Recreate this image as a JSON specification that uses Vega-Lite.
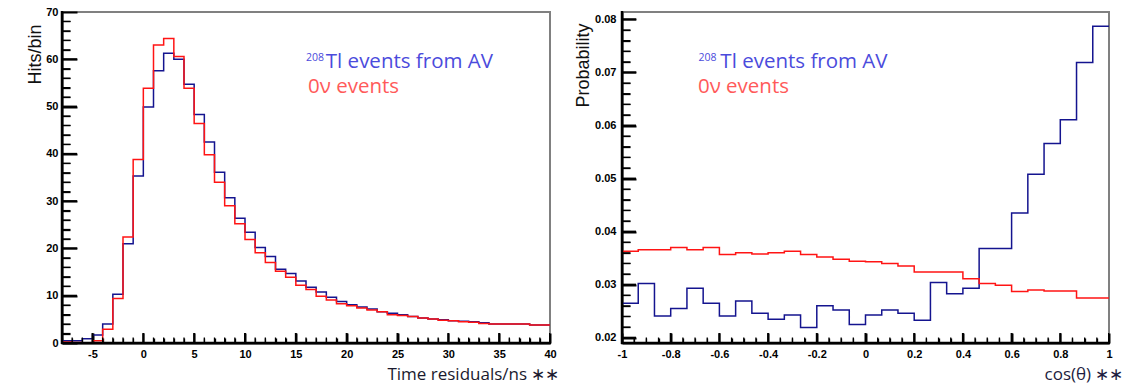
{
  "$schema": "https://vega.github.io/schema/vega-lite/v6.json",
  "padding": {"left": 24, "top": 5, "right": 5, "bottom": 5},
  "autosize": {"type": "pad"},
  "background": "white",
  "config": {
    "view": {"stroke": "#808080", "strokeWidth": 2},
    "axis": {"grid": false, "ticks": true, "tickColor": "#000000", "tickOpacity": 1, "domainColor": "#000000", "domainWidth": 2, "labelFont": "Liberation Sans", "labelFontSize": 11, "labelFontWeight": "bold", "labelColor": "#000000", "labelOverlap": false, "labelFlush": false, "labelBound": false, "titleFontWeight": "normal", "zindex": 2}
  },
  "datasets": {
    "time": [
      {"s": "Tl", "x": -8, "y": 0.5}, {"s": "Tl", "x": -7, "y": 0.5}, {"s": "Tl", "x": -6, "y": 0.9}, {"s": "Tl", "x": -5, "y": 1.7},
      {"s": "Tl", "x": -4, "y": 4.0}, {"s": "Tl", "x": -3, "y": 10.3}, {"s": "Tl", "x": -2, "y": 21.0}, {"s": "Tl", "x": -1, "y": 35.3},
      {"s": "Tl", "x": 0, "y": 49.9}, {"s": "Tl", "x": 1, "y": 57.6}, {"s": "Tl", "x": 2, "y": 61.3}, {"s": "Tl", "x": 3, "y": 60.0},
      {"s": "Tl", "x": 4, "y": 54.7}, {"s": "Tl", "x": 5, "y": 48.3}, {"s": "Tl", "x": 6, "y": 42.5}, {"s": "Tl", "x": 7, "y": 36.1},
      {"s": "Tl", "x": 8, "y": 30.7}, {"s": "Tl", "x": 9, "y": 26.4}, {"s": "Tl", "x": 10, "y": 23.4}, {"s": "Tl", "x": 11, "y": 20.2},
      {"s": "Tl", "x": 12, "y": 18.3}, {"s": "Tl", "x": 13, "y": 15.6}, {"s": "Tl", "x": 14, "y": 14.7}, {"s": "Tl", "x": 15, "y": 13.1},
      {"s": "Tl", "x": 16, "y": 11.8}, {"s": "Tl", "x": 17, "y": 10.8}, {"s": "Tl", "x": 18, "y": 9.7}, {"s": "Tl", "x": 19, "y": 8.8},
      {"s": "Tl", "x": 20, "y": 8.1}, {"s": "Tl", "x": 21, "y": 7.6}, {"s": "Tl", "x": 22, "y": 7.2}, {"s": "Tl", "x": 23, "y": 6.6},
      {"s": "Tl", "x": 24, "y": 6.3}, {"s": "Tl", "x": 25, "y": 6.0}, {"s": "Tl", "x": 26, "y": 5.6}, {"s": "Tl", "x": 27, "y": 5.3},
      {"s": "Tl", "x": 28, "y": 5.1}, {"s": "Tl", "x": 29, "y": 4.9}, {"s": "Tl", "x": 30, "y": 4.7}, {"s": "Tl", "x": 31, "y": 4.6},
      {"s": "Tl", "x": 32, "y": 4.5}, {"s": "Tl", "x": 33, "y": 4.3}, {"s": "Tl", "x": 34, "y": 4.0}, {"s": "Tl", "x": 35, "y": 4.0},
      {"s": "Tl", "x": 36, "y": 4.0}, {"s": "Tl", "x": 37, "y": 4.0}, {"s": "Tl", "x": 38, "y": 3.8}, {"s": "Tl", "x": 39, "y": 3.8},
      {"s": "Tl", "x": 40, "y": 3.8},
      {"s": "nu", "x": -8, "y": 0.2}, {"s": "nu", "x": -7, "y": 0.1}, {"s": "nu", "x": -6, "y": 0.0}, {"s": "nu", "x": -5, "y": 0.5},
      {"s": "nu", "x": -4, "y": 2.9}, {"s": "nu", "x": -3, "y": 9.4}, {"s": "nu", "x": -2, "y": 22.4}, {"s": "nu", "x": -1, "y": 38.8},
      {"s": "nu", "x": 0, "y": 53.9}, {"s": "nu", "x": 1, "y": 63.0}, {"s": "nu", "x": 2, "y": 64.4}, {"s": "nu", "x": 3, "y": 60.6},
      {"s": "nu", "x": 4, "y": 53.9}, {"s": "nu", "x": 5, "y": 46.4}, {"s": "nu", "x": 6, "y": 39.8}, {"s": "nu", "x": 7, "y": 34.0},
      {"s": "nu", "x": 8, "y": 29.0}, {"s": "nu", "x": 9, "y": 25.2}, {"s": "nu", "x": 10, "y": 21.9}, {"s": "nu", "x": 11, "y": 19.1},
      {"s": "nu", "x": 12, "y": 17.0}, {"s": "nu", "x": 13, "y": 15.2}, {"s": "nu", "x": 14, "y": 13.9}, {"s": "nu", "x": 15, "y": 12.2},
      {"s": "nu", "x": 16, "y": 11.3}, {"s": "nu", "x": 17, "y": 9.9}, {"s": "nu", "x": 18, "y": 9.1}, {"s": "nu", "x": 19, "y": 8.3},
      {"s": "nu", "x": 20, "y": 7.9}, {"s": "nu", "x": 21, "y": 7.4}, {"s": "nu", "x": 22, "y": 7.0}, {"s": "nu", "x": 23, "y": 6.6},
      {"s": "nu", "x": 24, "y": 6.0}, {"s": "nu", "x": 25, "y": 5.8}, {"s": "nu", "x": 26, "y": 5.6}, {"s": "nu", "x": 27, "y": 5.3},
      {"s": "nu", "x": 28, "y": 5.1}, {"s": "nu", "x": 29, "y": 4.8}, {"s": "nu", "x": 30, "y": 4.7}, {"s": "nu", "x": 31, "y": 4.5},
      {"s": "nu", "x": 32, "y": 4.4}, {"s": "nu", "x": 33, "y": 4.1}, {"s": "nu", "x": 34, "y": 4.0}, {"s": "nu", "x": 35, "y": 4.0},
      {"s": "nu", "x": 36, "y": 4.0}, {"s": "nu", "x": 37, "y": 4.0}, {"s": "nu", "x": 38, "y": 3.8}, {"s": "nu", "x": 39, "y": 3.8},
      {"s": "nu", "x": 40, "y": 3.8}
    ],
    "cos": [
      {"s": "Tl", "x": -1, "y": 0.0265}, {"s": "Tl", "x": -0.93333, "y": 0.0302}, {"s": "Tl", "x": -0.86667, "y": 0.0241},
      {"s": "Tl", "x": -0.8, "y": 0.0255}, {"s": "Tl", "x": -0.73333, "y": 0.0293}, {"s": "Tl", "x": -0.66667, "y": 0.0265},
      {"s": "Tl", "x": -0.6, "y": 0.0241}, {"s": "Tl", "x": -0.53333, "y": 0.0269}, {"s": "Tl", "x": -0.46667, "y": 0.0246},
      {"s": "Tl", "x": -0.4, "y": 0.0235}, {"s": "Tl", "x": -0.33333, "y": 0.0243}, {"s": "Tl", "x": -0.26667, "y": 0.0219},
      {"s": "Tl", "x": -0.2, "y": 0.0260}, {"s": "Tl", "x": -0.13333, "y": 0.0252}, {"s": "Tl", "x": -0.06667, "y": 0.0225},
      {"s": "Tl", "x": 0, "y": 0.0243}, {"s": "Tl", "x": 0.06667, "y": 0.0252}, {"s": "Tl", "x": 0.13333, "y": 0.0246},
      {"s": "Tl", "x": 0.2, "y": 0.0233}, {"s": "Tl", "x": 0.26667, "y": 0.0304}, {"s": "Tl", "x": 0.33333, "y": 0.0283},
      {"s": "Tl", "x": 0.4, "y": 0.0293}, {"s": "Tl", "x": 0.46667, "y": 0.0368}, {"s": "Tl", "x": 0.53333, "y": 0.0368},
      {"s": "Tl", "x": 0.6, "y": 0.0435}, {"s": "Tl", "x": 0.66667, "y": 0.0508}, {"s": "Tl", "x": 0.73333, "y": 0.0566},
      {"s": "Tl", "x": 0.8, "y": 0.0611}, {"s": "Tl", "x": 0.86667, "y": 0.0719}, {"s": "Tl", "x": 0.93333, "y": 0.0787},
      {"s": "Tl", "x": 1, "y": 0.0787},
      {"s": "nu", "x": -1, "y": 0.0363}, {"s": "nu", "x": -0.93333, "y": 0.0366}, {"s": "nu", "x": -0.86667, "y": 0.0366},
      {"s": "nu", "x": -0.8, "y": 0.0370}, {"s": "nu", "x": -0.73333, "y": 0.0366}, {"s": "nu", "x": -0.66667, "y": 0.0370},
      {"s": "nu", "x": -0.6, "y": 0.0357}, {"s": "nu", "x": -0.53333, "y": 0.0360}, {"s": "nu", "x": -0.46667, "y": 0.0358},
      {"s": "nu", "x": -0.4, "y": 0.0360}, {"s": "nu", "x": -0.33333, "y": 0.0363}, {"s": "nu", "x": -0.26667, "y": 0.0357},
      {"s": "nu", "x": -0.2, "y": 0.0352}, {"s": "nu", "x": -0.13333, "y": 0.0348}, {"s": "nu", "x": -0.06667, "y": 0.0344},
      {"s": "nu", "x": 0, "y": 0.0343}, {"s": "nu", "x": 0.06667, "y": 0.0340}, {"s": "nu", "x": 0.13333, "y": 0.0335},
      {"s": "nu", "x": 0.2, "y": 0.0324}, {"s": "nu", "x": 0.26667, "y": 0.0324}, {"s": "nu", "x": 0.33333, "y": 0.0324},
      {"s": "nu", "x": 0.4, "y": 0.0311}, {"s": "nu", "x": 0.46667, "y": 0.0302}, {"s": "nu", "x": 0.53333, "y": 0.0299},
      {"s": "nu", "x": 0.6, "y": 0.0287}, {"s": "nu", "x": 0.66667, "y": 0.0290}, {"s": "nu", "x": 0.73333, "y": 0.0288},
      {"s": "nu", "x": 0.8, "y": 0.0288}, {"s": "nu", "x": 0.86667, "y": 0.0275}, {"s": "nu", "x": 0.93333, "y": 0.0275},
      {"s": "nu", "x": 1, "y": 0.0275}
    ],
    "lxMaj": [{"t": -5}, {"t": 0}, {"t": 5}, {"t": 10}, {"t": 15}, {"t": 20}, {"t": 25}, {"t": 30}, {"t": 35}, {"t": 40}],
    "lxMin": [{"t": -8}, {"t": -7}, {"t": -6}, {"t": -4}, {"t": -3}, {"t": -2}, {"t": -1}, {"t": 1}, {"t": 2}, {"t": 3}, {"t": 4}, {"t": 6}, {"t": 7}, {"t": 8}, {"t": 9}, {"t": 11}, {"t": 12}, {"t": 13}, {"t": 14}, {"t": 16}, {"t": 17}, {"t": 18}, {"t": 19}, {"t": 21}, {"t": 22}, {"t": 23}, {"t": 24}, {"t": 26}, {"t": 27}, {"t": 28}, {"t": 29}, {"t": 31}, {"t": 32}, {"t": 33}, {"t": 34}, {"t": 36}, {"t": 37}, {"t": 38}, {"t": 39}],
    "lyMaj": [{"t": 0}, {"t": 10}, {"t": 20}, {"t": 30}, {"t": 40}, {"t": 50}, {"t": 60}, {"t": 70}],
    "lyMin": [{"t": 2}, {"t": 4}, {"t": 6}, {"t": 8}, {"t": 12}, {"t": 14}, {"t": 16}, {"t": 18}, {"t": 22}, {"t": 24}, {"t": 26}, {"t": 28}, {"t": 32}, {"t": 34}, {"t": 36}, {"t": 38}, {"t": 42}, {"t": 44}, {"t": 46}, {"t": 48}, {"t": 52}, {"t": 54}, {"t": 56}, {"t": 58}, {"t": 62}, {"t": 64}, {"t": 66}, {"t": 68}],
    "rxMaj": [{"t": -1}, {"t": -0.8}, {"t": -0.6}, {"t": -0.4}, {"t": -0.2}, {"t": 0}, {"t": 0.2}, {"t": 0.4}, {"t": 0.6}, {"t": 0.8}, {"t": 1}],
    "rxMin": [{"t": -0.95}, {"t": -0.9}, {"t": -0.85}, {"t": -0.75}, {"t": -0.7}, {"t": -0.65}, {"t": -0.55}, {"t": -0.5}, {"t": -0.45}, {"t": -0.35}, {"t": -0.3}, {"t": -0.25}, {"t": -0.15}, {"t": -0.1}, {"t": -0.05}, {"t": 0.05}, {"t": 0.1}, {"t": 0.15}, {"t": 0.25}, {"t": 0.3}, {"t": 0.35}, {"t": 0.45}, {"t": 0.5}, {"t": 0.55}, {"t": 0.65}, {"t": 0.7}, {"t": 0.75}, {"t": 0.85}, {"t": 0.9}, {"t": 0.95}],
    "ryMaj": [{"t": 0.02}, {"t": 0.03}, {"t": 0.04}, {"t": 0.05}, {"t": 0.06}, {"t": 0.07}, {"t": 0.08}],
    "ryMin": [{"t": 0.022}, {"t": 0.024}, {"t": 0.026}, {"t": 0.028}, {"t": 0.032}, {"t": 0.034}, {"t": 0.036}, {"t": 0.038}, {"t": 0.042}, {"t": 0.044}, {"t": 0.046}, {"t": 0.048}, {"t": 0.052}, {"t": 0.054}, {"t": 0.056}, {"t": 0.058}, {"t": 0.062}, {"t": 0.064}, {"t": 0.066}, {"t": 0.068}, {"t": 0.072}, {"t": 0.074}, {"t": 0.076}, {"t": 0.078}]
  },
  "spacing": 72,
  "bounds": "flush",
  "hconcat": [
    {
      "width": 488,
      "height": 331,
      "data": {"name": "time"},
      "resolve": {"axis": {"x": "independent", "y": "independent"}},
      "layer": [
        {
          "transform": [{"filter": "datum.s == 'Tl'"}],
          "mark": {"type": "line", "interpolate": "step-after", "color": "#14148f", "strokeWidth": 1.5, "clip": true},
          "encoding": {
            "x": {
              "field": "x", "type": "quantitative",
              "scale": {"domain": [-8, 40], "nice": false, "zero": false},
              "axis": {
                "orient": "bottom", "offset": -10, "domain": false,
                "values": [-5, 0, 5, 10, 15, 20, 25, 30, 35, 40],
                "tickSize": 10, "tickWidth": 2,
                "labelPadding": 5, "labelOverlap": false,
                "labelExpr": "replace(datum.label, '−', '-')",
                "title": "Time residuals/ns ∗∗",
                "titleFont": "Open Sans", "titleFontSize": 17, "titleColor": "#1a1a2e",
                "titleX": 497, "titleY": 46, "titleAlign": "right", "titleBaseline": "alphabetic"
              }
            },
            "y": {
              "field": "y", "type": "quantitative",
              "scale": {"domain": [0, 70], "nice": false, "zero": false},
              "axis": {
                "orient": "left", "offset": -15, "domain": false,
                "values": [0, 10, 20, 30, 40, 50, 60, 70],
                "tickSize": 15, "tickWidth": 2,
                "labelPadding": 4, "labelOverlap": false,
                "title": "Hits/bin",
                "titleFont": "Liberation Sans", "titleFontSize": 18, "titleColor": "#111111",
                "titleAngle": -90, "titleX": -37, "titleY": 12, "titleAlign": "right", "titleBaseline": "alphabetic"
              }
            }
          }
        },
        {
          "transform": [{"filter": "datum.s == 'nu'"}],
          "mark": {"type": "line", "interpolate": "step-after", "color": "#ff1414", "strokeWidth": 1.5, "clip": true},
          "encoding": {
            "x": {
              "field": "x", "type": "quantitative",
              "axis": {
                "orient": "bottom", "offset": -5,
                "values": [-8,-7,-6,-4,-3,-2,-1,1,2,3,4,6,7,8,9,11,12,13,14,16,17,18,19,21,22,23,24,26,27,28,29,31,32,33,34,36,37,38,39],
                "tickSize": 5, "tickWidth": 1.3, "labels": false, "domain": false, "title": null
              }
            },
            "y": {
              "field": "y", "type": "quantitative",
              "axis": {
                "orient": "left", "offset": -8,
                "values": [2,4,6,8,12,14,16,18,22,24,26,28,32,34,36,38,42,44,46,48,52,54,56,58,62,64,66,68],
                "tickSize": 8, "tickWidth": 1.3, "labels": false, "domain": false, "title": null
              }
            }
          }
        },
        {
          "data": {"name": "lxMaj"},
          "mark": {"type": "tick", "orient": "vertical", "size": 20, "thickness": 2, "color": "#000000", "opacity": 1, "clip": true},
          "encoding": {"x": {"field": "t", "type": "quantitative", "axis": null}, "y": {"datum": 0, "type": "quantitative", "axis": null}}
        },
        {
          "data": {"name": "lxMin"},
          "mark": {"type": "tick", "orient": "vertical", "size": 11, "thickness": 1.3, "color": "#000000", "opacity": 1, "clip": true},
          "encoding": {"x": {"field": "t", "type": "quantitative", "axis": null}, "y": {"datum": 0, "type": "quantitative", "axis": null}}
        },
        {
          "data": {"name": "lyMaj"},
          "mark": {"type": "tick", "orient": "horizontal", "size": 30, "thickness": 2, "color": "#000000", "opacity": 1, "clip": true},
          "encoding": {"y": {"field": "t", "type": "quantitative", "axis": null}, "x": {"datum": -8, "type": "quantitative", "axis": null}}
        },
        {
          "data": {"name": "lyMin"},
          "mark": {"type": "tick", "orient": "horizontal", "size": 17, "thickness": 1.3, "color": "#000000", "opacity": 1, "clip": true},
          "encoding": {"y": {"field": "t", "type": "quantitative", "axis": null}, "x": {"datum": -8, "type": "quantitative", "axis": null}}
        },
        {
          "data": {"values": [{}]},
          "mark": {"type": "tick", "orient": "vertical", "size": 333, "thickness": 2.5, "color": "#000000", "opacity": 1},
          "encoding": {"x": {"datum": -8, "type": "quantitative", "axis": null}, "y": {"datum": 35, "type": "quantitative", "axis": null}}
        },
        {
          "data": {"values": [{}]},
          "mark": {"type": "tick", "orient": "horizontal", "size": 490, "thickness": 2.5, "color": "#000000", "opacity": 1},
          "encoding": {"x": {"datum": 16, "type": "quantitative", "axis": null}, "y": {"datum": 0, "type": "quantitative", "axis": null}}
        },
        {
          "data": {"values": [{}]},
          "mark": {"type": "text", "text": "208", "font": "Open Sans", "fontSize": 10.5, "color": "#4b4bdc", "align": "left", "baseline": "alphabetic"},
          "encoding": {"x": {"datum": 16.0, "type": "quantitative", "axis": null}, "y": {"datum": 59.6, "type": "quantitative", "axis": null}}
        },
        {
          "data": {"values": [{}]},
          "mark": {"type": "text", "text": "Tl events from AV", "font": "Open Sans", "fontSize": 20.5, "color": "#4b4bdc", "align": "left", "baseline": "alphabetic"},
          "encoding": {"x": {"datum": 17.95, "type": "quantitative", "axis": null}, "y": {"datum": 58.2, "type": "quantitative", "axis": null}}
        },
        {
          "data": {"values": [{}]},
          "mark": {"type": "text", "text": "0ν events", "font": "Open Sans", "fontSize": 20.5, "color": "#ff5a5a", "align": "left", "baseline": "alphabetic"},
          "encoding": {
            "x": {"datum": 16.2, "type": "quantitative", "axis": {"orient": "bottom", "ticks": false, "labels": false, "domain": true, "title": null}},
            "y": {"datum": 52.9, "type": "quantitative", "axis": {"orient": "left", "ticks": false, "labels": false, "domain": true, "title": null}}
          }
        }
      ]
    },
    {
      "width": 487,
      "height": 331,
      "data": {"name": "cos"},
      "resolve": {"axis": {"x": "independent", "y": "independent"}},
      "layer": [
        {
          "transform": [{"filter": "datum.s == 'Tl'"}],
          "mark": {"type": "line", "interpolate": "step-after", "color": "#14148f", "strokeWidth": 1.5, "clip": true},
          "encoding": {
            "x": {
              "field": "x", "type": "quantitative",
              "scale": {"domain": [-1, 1], "nice": false, "zero": false},
              "axis": {
                "orient": "bottom", "offset": -10, "domain": false,
                "values": [-1, -0.8, -0.6, -0.4, -0.2, 0, 0.2, 0.4, 0.6, 0.8, 1],
                "tickSize": 10, "tickWidth": 2,
                "labelPadding": 5, "labelOverlap": false,
                "labelExpr": "replace(format(datum.value, '~g'), '−', '-')",
                "title": "cos(θ) ∗∗",
                "titleFont": "Open Sans", "titleFontSize": 17, "titleColor": "#1c1c40",
                "titleX": 501, "titleY": 46, "titleAlign": "right", "titleBaseline": "alphabetic"
              }
            },
            "y": {
              "field": "y", "type": "quantitative",
              "scale": {"domain": [0.019, 0.0814], "nice": false, "zero": false},
              "axis": {
                "orient": "left", "offset": -14, "domain": false,
                "values": [0.02, 0.03, 0.04, 0.05, 0.06, 0.07, 0.08],
                "format": ".2f",
                "tickSize": 14, "tickWidth": 2,
                "labelPadding": 6, "labelOverlap": false,
                "title": "Probability",
                "titleFont": "Liberation Sans", "titleFontSize": 18, "titleColor": "#111111",
                "titleAngle": -90, "titleX": -48, "titleY": 11, "titleAlign": "right", "titleBaseline": "alphabetic"
              }
            }
          }
        },
        {
          "transform": [{"filter": "datum.s == 'nu'"}],
          "mark": {"type": "line", "interpolate": "step-after", "color": "#ff1414", "strokeWidth": 1.5, "clip": true},
          "encoding": {
            "x": {
              "field": "x", "type": "quantitative",
              "axis": {
                "orient": "bottom", "offset": -5,
                "values": [-0.95,-0.9,-0.85,-0.75,-0.7,-0.65,-0.55,-0.5,-0.45,-0.35,-0.3,-0.25,-0.15,-0.1,-0.05,0.05,0.1,0.15,0.25,0.3,0.35,0.45,0.5,0.55,0.65,0.7,0.75,0.85,0.9,0.95],
                "tickSize": 5, "tickWidth": 1.3, "labels": false, "domain": false, "title": null
              }
            },
            "y": {
              "field": "y", "type": "quantitative",
              "axis": {
                "orient": "left", "offset": -8,
                "values": [0.022,0.024,0.026,0.028,0.032,0.034,0.036,0.038,0.042,0.044,0.046,0.048,0.052,0.054,0.056,0.058,0.062,0.064,0.066,0.068,0.072,0.074,0.076,0.078],
                "tickSize": 8, "tickWidth": 1.3, "labels": false, "domain": false, "title": null
              }
            }
          }
        },
        {
          "data": {"name": "rxMaj"},
          "mark": {"type": "tick", "orient": "vertical", "size": 20, "thickness": 2, "color": "#000000", "opacity": 1, "clip": true},
          "encoding": {"x": {"field": "t", "type": "quantitative", "axis": null}, "y": {"datum": 0.019, "type": "quantitative", "axis": null}}
        },
        {
          "data": {"name": "rxMin"},
          "mark": {"type": "tick", "orient": "vertical", "size": 11, "thickness": 1.3, "color": "#000000", "opacity": 1, "clip": true},
          "encoding": {"x": {"field": "t", "type": "quantitative", "axis": null}, "y": {"datum": 0.019, "type": "quantitative", "axis": null}}
        },
        {
          "data": {"name": "ryMaj"},
          "mark": {"type": "tick", "orient": "horizontal", "size": 28, "thickness": 2, "color": "#000000", "opacity": 1, "clip": true},
          "encoding": {"y": {"field": "t", "type": "quantitative", "axis": null}, "x": {"datum": -1, "type": "quantitative", "axis": null}}
        },
        {
          "data": {"name": "ryMin"},
          "mark": {"type": "tick", "orient": "horizontal", "size": 17, "thickness": 1.3, "color": "#000000", "opacity": 1, "clip": true},
          "encoding": {"y": {"field": "t", "type": "quantitative", "axis": null}, "x": {"datum": -1, "type": "quantitative", "axis": null}}
        },
        {
          "data": {"values": [{}]},
          "mark": {"type": "tick", "orient": "vertical", "size": 333, "thickness": 2.5, "color": "#000000", "opacity": 1},
          "encoding": {"x": {"datum": -1, "type": "quantitative", "axis": null}, "y": {"datum": 0.0502, "type": "quantitative", "axis": null}}
        },
        {
          "data": {"values": [{}]},
          "mark": {"type": "tick", "orient": "horizontal", "size": 489, "thickness": 2.5, "color": "#000000", "opacity": 1},
          "encoding": {"x": {"datum": 0, "type": "quantitative", "axis": null}, "y": {"datum": 0.019, "type": "quantitative", "axis": null}}
        },
        {
          "data": {"values": [{}]},
          "mark": {"type": "text", "text": "208", "font": "Open Sans", "fontSize": 10.5, "color": "#4b4bdc", "align": "left", "baseline": "alphabetic"},
          "encoding": {"x": {"datum": -0.686, "type": "quantitative", "axis": null}, "y": {"datum": 0.0721, "type": "quantitative", "axis": null}}
        },
        {
          "data": {"values": [{}]},
          "mark": {"type": "text", "text": "Tl events from AV", "font": "Open Sans", "fontSize": 20.5, "color": "#4b4bdc", "align": "left", "baseline": "alphabetic"},
          "encoding": {"x": {"datum": -0.596, "type": "quantitative", "axis": null}, "y": {"datum": 0.0709, "type": "quantitative", "axis": null}}
        },
        {
          "data": {"values": [{}]},
          "mark": {"type": "text", "text": "0ν events", "font": "Open Sans", "fontSize": 20.5, "color": "#ff5a5a", "align": "left", "baseline": "alphabetic"},
          "encoding": {
            "x": {"datum": -0.688, "type": "quantitative", "axis": {"orient": "bottom", "ticks": false, "labels": false, "domain": true, "title": null}},
            "y": {"datum": 0.0662, "type": "quantitative", "axis": {"orient": "left", "ticks": false, "labels": false, "domain": true, "title": null}}
          }
        }
      ]
    }
  ]
}
